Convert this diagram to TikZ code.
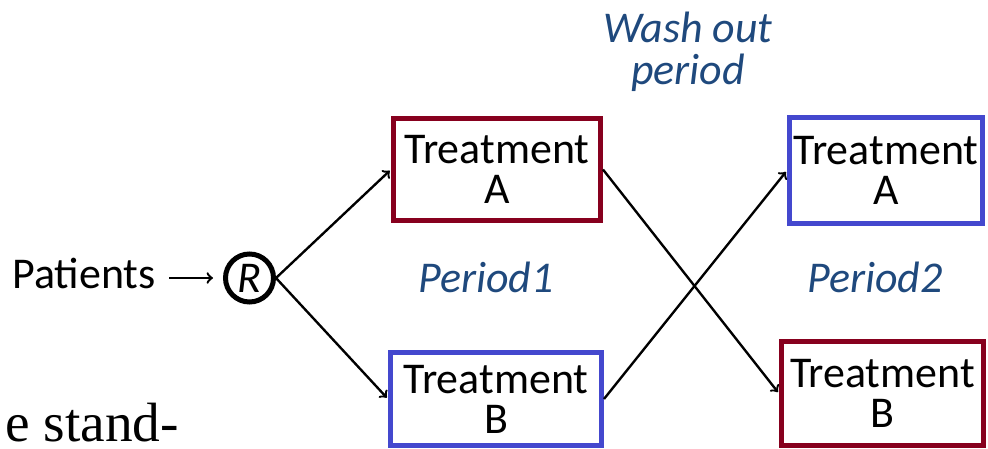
\documentclass[tikz,border=0pt]{standalone}
\usepackage{fontspec}
\setmainfont{Carlito}
\newfontfamily\paperfont{Liberation Serif}
\usetikzlibrary{positioning}
\definecolor{boxred}{RGB}{135,0,30}
\definecolor{boxblue}{RGB}{68,72,206}
\definecolor{labelblue}{RGB}{31,73,125}

\begin{document}
\begin{tikzpicture}[
x=0.02cm,y=-0.02cm,
->, shorten >=1pt, line width=1.35pt,
treat node/.style={rectangle,draw,line width=2.85pt,align=center,inner sep=0pt,font=\fontsize{25}{22.8}\selectfont},
rand node/.style={circle,draw,line width=2.85pt,minimum size=0.96cm,inner sep=0pt,font=\fontsize{25}{22.8}\selectfont\itshape},
period label/.style={font=\fontsize{25}{24}\selectfont\itshape,text=labelblue,inner sep=0pt,align=center}]
  \useasboundingbox (0,0) rectangle (988,449);
%randomisation
  \node[rand node] (R) at (249.5,278) {R};
  \node[font=\fontsize{25}{22.8}\selectfont,inner sep=0pt] (pat) [left=1.32cm of R, yshift=0.1cm] {Patients};
%period 1
  \node[treat node,draw=boxred,minimum width=4.14cm,minimum height=2.04cm] (A1) at (497,169.5) {Treatment\\A};
  \node[treat node,draw=boxblue,minimum width=4.22cm,minimum height=1.86cm] (B1) at (496,399) {Treatment\\B};
  \node[period label] (p1) at (486,277) {Period1};
%period 2
  \node[treat node,draw=boxblue,minimum width=3.86cm,minimum height=2.12cm] (A2) at (886,170.5) {Treatment\\A};
  \node[treat node,draw=boxred,minimum width=4.04cm,minimum height=2.08cm] (B2) at (882.5,393.5) {Treatment\\B};
  \node[period label] (p2) at (875,277) {Period2};
%wash out
  \node[period label] (wash) at (688,52) {Wash out\\period};
%cut text
  \node[font={\paperfont\fontsize{31.5}{36}\selectfont},anchor=base west,inner sep=0pt] (cut) at (4,441) {e stand-};
%paths
  \draw[shorten <=0.24cm,shorten >=0.2cm] (pat.east |- R.west) -- (R.west);
  \draw (R.east) -- (A1.west);
  \draw (R.east) -- (B1.west);
  \draw (A1.east) -- (B2.west);
  \draw (B1.east) -- (A2.west);
\end{tikzpicture}
\end{document}
